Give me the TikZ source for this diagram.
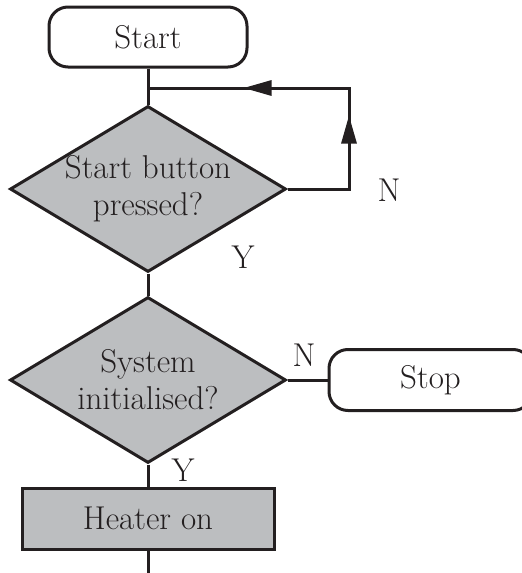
\documentclass[tikz,border=0pt]{standalone}
\usepackage{fontspec}
\usetikzlibrary{shapes.geometric,arrows.meta,decorations.markings}
\definecolor{ink}{HTML}{231F20}
\definecolor{boxgray}{HTML}{BCBEC0}
\tikzset{flowtip/.tip={Triangle[length=28pt,width=15pt]}}
\begin{document}
\begin{tikzpicture}[x=1pt,y=-1pt,
  line/.style={draw=ink,line width=3pt},
  bigfont/.style={font=\fontsize{33}{37}\selectfont,text=ink},
  term/.style={line,rounded corners=19pt,minimum width=198pt,minimum height=60pt,inner sep=0pt,bigfont},
  dec/.style={line,diamond,fill=boxgray,minimum width=276pt,minimum height=166pt,inner sep=0pt},
  dtext/.style={align=center,bigfont,inner sep=0pt},
  proc/.style={line,fill=boxgray,minimum width=252pt,minimum height=61pt,inner sep=0pt,bigfont},
  lab/.style={bigfont,inner sep=0pt}]
\useasboundingbox (0,0) rectangle (522,573);
\clip (0,0) rectangle (522,573);
\node[term] (start) at (148,37) {Start};
\node[dec] (d1) at (148,189) {};
\node[dtext] (t1) at (148,189) {Start button\\pressed?};
\node[dec] (d2) at (148,380) {};
\node[dtext] (t2) at (148,380) {System\\initialised?};
\node[term,minimum width=203pt,minimum height=61pt] (stop) at (430.5,380) {Stop};
\node[proc] (heat) at (148,518.5) {Heater on};
\coordinate (lpr) at (349,189);
\coordinate (ltr) at (349,88);
\coordinate (jn) at (148,88);
\coordinate (bot) at (148,580);
% connectors
\draw[line] (start.south) -- (d1.north);
\draw[line,postaction={decorate},decoration={markings,
   mark=at position 135pt with {\arrow[ink]{flowtip}},
   mark=at position 268pt with {\arrow[ink]{flowtip}}}]
   (d1.east) -- (lpr) -- (ltr) -- (jn);
\draw[line] (d1.south) -- (d2.north);
\draw[line] (d2.east) -- (stop.west);
\draw[line] (d2.south) -- (heat.north);
\draw[line] (heat.south) -- (bot);
% labels
\node[lab] (n1) at (389,190) {N};
\node[lab] (y1) at (243,257) {Y};
\node[lab] (n2) at (304,355) {N};
\node[lab] (y2) at (183,470) {Y};
\end{tikzpicture}
\end{document}
